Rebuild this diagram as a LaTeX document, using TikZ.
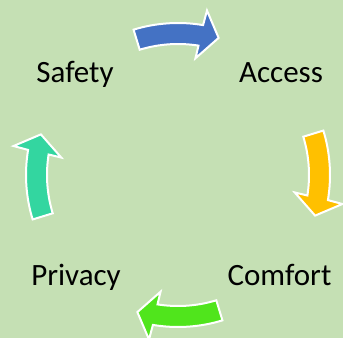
\documentclass[tikz,border=0pt]{standalone}
\usepackage{fontspec}
\setmainfont{Carlito}
\definecolor{bg}{HTML}{C5E0B4}
\definecolor{cblue}{HTML}{4472C4}
\definecolor{cgold}{HTML}{FFC000}
\definecolor{cgreen}{HTML}{50E51C}
\definecolor{cteal}{HTML}{33D6A0}
\tikzset{
  lbl/.style={anchor=base, font=\fontsize{31}{37}\selectfont, text=black, inner sep=0pt},
  cyclearrow/.style={draw=white, line width=2pt, line join=miter}
}
\newcommand{\cyclearrowshape}[2]{%
  \begin{scope}[shift={(178pt,-175pt)}, rotate=#1]
    \path[cyclearrow, fill=#2] (107:152pt) arc[start angle=107, end angle=80.5, radius=152pt]
      -- (80:167pt) -- (73.5:143pt) -- (81.5:118pt) -- (81:131pt)
      arc[start angle=81, end angle=107, radius=131pt] -- cycle;
  \end{scope}}
\begin{document}
\begin{tikzpicture}[x=1pt,y=1pt]
  \fill[bg] (0,0) rectangle (343,-338);
  \useasboundingbox (0,0) rectangle (343,-338);
  \cyclearrowshape{0}{cblue}
  \cyclearrowshape{-90}{cgold}
  \cyclearrowshape{-180}{cgreen}
  \cyclearrowshape{-270}{cteal}
  \node[lbl] (safety) at (75,-82) {Safety};
  \node[lbl] (access) at (281,-82) {Access};
  \node[lbl] (comfort) at (279.5,-285) {Comfort};
  \node[lbl] (privacy) at (76,-285) {Privacy};
\end{tikzpicture}
\end{document}
